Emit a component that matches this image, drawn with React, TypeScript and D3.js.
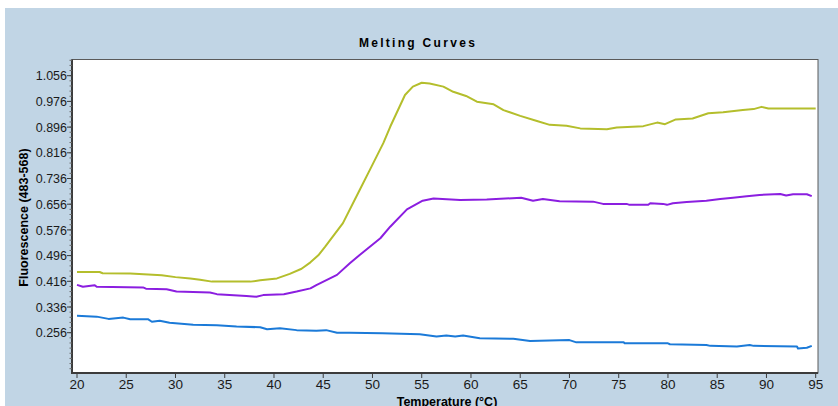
import React from 'react';
import * as d3 from 'd3';

// readings (temperature °C, fluorescence)
const yellowT = [20, 22.3, 22.6, 25.4, 28.6, 30, 31.5, 32.5, 33.7, 37.6, 38.6, 40.3, 41.6, 42.8, 43.7, 44.5, 45.2, 47, 48.7, 49.9, 51.1, 51.8, 53.3, 54.1, 55, 55.8, 57.2, 58.2, 59.5, 60.6, 62.3, 63.3, 65, 66.7, 68, 69.7, 71.1, 73.8, 74.8, 77.5, 78.9, 79.7, 80.8, 82.5, 84.1, 85.6, 87.6, 88.7, 89.5, 90.2, 95];
const yellowV = [0.445, 0.445, 0.441, 0.44, 0.435, 0.429, 0.425, 0.421, 0.415, 0.415, 0.419, 0.425, 0.439, 0.455, 0.475, 0.497, 0.524, 0.597, 0.7, 0.773, 0.846, 0.897, 0.996, 1.022, 1.034, 1.032, 1.022, 1.006, 0.993, 0.975, 0.967, 0.949, 0.931, 0.915, 0.903, 0.9, 0.892, 0.889, 0.895, 0.899, 0.91, 0.905, 0.92, 0.923, 0.939, 0.942, 0.949, 0.952, 0.959, 0.954, 0.954];

const purpleT = [20, 20.6, 21.8, 22, 26.7, 27, 29.1, 30.1, 33.5, 34.2, 37.2, 38.2, 38.9, 41, 42.3, 43.7, 44.3, 46.4, 47.7, 48.7, 50.8, 51.8, 53.5, 55.1, 56.2, 58.9, 61.6, 65.1, 66.3, 67.3, 69, 72.4, 73.4, 75.8, 76.1, 78, 78.2, 79.5, 79.9, 80.5, 81.9, 83.9, 85.3, 86.6, 88, 89.3, 91.4, 92, 92.7, 94.1, 94.6];
const purpleV = [0.405, 0.399, 0.404, 0.399, 0.397, 0.393, 0.391, 0.384, 0.381, 0.376, 0.37, 0.368, 0.373, 0.376, 0.384, 0.394, 0.404, 0.436, 0.472, 0.498, 0.55, 0.586, 0.64, 0.667, 0.674, 0.669, 0.671, 0.676, 0.667, 0.672, 0.665, 0.664, 0.657, 0.657, 0.654, 0.654, 0.659, 0.657, 0.654, 0.659, 0.663, 0.667, 0.672, 0.676, 0.681, 0.685, 0.688, 0.683, 0.687, 0.687, 0.681];

const blueT = [20, 22, 23.2, 24.7, 25.4, 27.2, 27.6, 28.4, 29.4, 31.8, 34.2, 36.2, 38.6, 39.3, 40.6, 42.3, 44.3, 45.3, 46.4, 47.7, 51, 54.8, 56.5, 57.5, 58.4, 59.2, 60.9, 64.3, 66, 70, 70.7, 75.5, 75.6, 80, 80.2, 83.9, 84.3, 87, 88.3, 88.7, 93.1, 93.2, 94.1, 94.6];
const blueV = [0.309, 0.306, 0.299, 0.303, 0.298, 0.298, 0.29, 0.293, 0.287, 0.281, 0.279, 0.275, 0.273, 0.267, 0.27, 0.264, 0.262, 0.264, 0.256, 0.256, 0.254, 0.251, 0.244, 0.247, 0.244, 0.247, 0.239, 0.237, 0.23, 0.233, 0.226, 0.226, 0.223, 0.223, 0.22, 0.218, 0.215, 0.213, 0.218, 0.215, 0.213, 0.207, 0.209, 0.215];

const xTicks = [20, 25, 30, 35, 40, 45, 50, 55, 60, 65, 70, 75, 80, 85, 90, 95];
const yTicks = [0.256, 0.336, 0.416, 0.496, 0.576, 0.656, 0.736, 0.816, 0.896, 0.976, 1.056];

const W = 838;
const H = 406;
const plot = { left: 72, top: 59.5, right: 818, bottom: 373 };
const font = '"Liberation Sans", Arial, sans-serif';

export default function App() {
  const x = d3.scaleLinear().domain([20, 95]).range([77, 815.7]);
  const y = d3.scaleLinear().domain([0.256, 1.056]).range([332.7, 75.7]);

  const line = d3.line<[number, number]>()
    .x(d => x(d[0]))
    .y(d => y(d[1]));

  const series = [
    { t: yellowT, v: yellowV, color: '#b4be2c' },
    { t: purpleT, v: purpleV, color: '#8b1ee0' },
    { t: blueT, v: blueV, color: '#1b7ad8' },
  ];

  // minor ticks on y: 5 divisions per major step, filling the axis
  const yMin = y.invert(plot.bottom);
  const yMax = y.invert(plot.top);
  const minor: number[] = [];
  for (let v = 0.256 - 0.016 * 10; v <= yMax; v += 0.016) {
    if (v >= yMin) minor.push(v);
  }

  return (
    <div style={{ position: 'absolute', left: 0, top: 0 }}>
      <svg width={W} height={H} style={{ display: 'block' }}>
        <rect x={0} y={0} width={W} height={H} fill="#ffffff" />
        <rect x={5} y={8} width={W - 5} height={H - 8} fill="#c1d5e5" />

        <text x={418} y={47} textAnchor="middle" fontFamily={font} fontWeight="bold"
          fontSize={12} letterSpacing={2.3}>Melting Curves</text>

        <rect x={plot.left} y={plot.top} width={plot.right - plot.left} height={plot.bottom - plot.top}
          fill="#ffffff" stroke="#5a5a5a" strokeWidth={1} />

        <g clipPath="url(#clip)">
          {series.map((s, i) => (
            <path key={i} d={line(s.t.map((t, j) => [t, s.v[j]] as [number, number])) || ''}
              fill="none" stroke={s.color} strokeWidth={2} strokeLinejoin="round" />
          ))}
        </g>
        <defs>
          <clipPath id="clip">
            <rect x={plot.left} y={plot.top} width={plot.right - plot.left} height={plot.bottom - plot.top} />
          </clipPath>
        </defs>

        {/* axes */}
        <line x1={plot.left} x2={plot.left} y1={plot.top} y2={plot.bottom + 1} stroke="#3c3c3c" strokeWidth={2} />
        <line x1={plot.left} x2={plot.right} y1={plot.bottom} y2={plot.bottom} stroke="#3c3c3c" strokeWidth={2} />

        {minor.map((v, i) => (
          <line key={'m' + i} x1={plot.left - 2.5} x2={plot.left} y1={y(v)} y2={y(v)} stroke="#6a6a6a" strokeWidth={1} />
        ))}
        {yTicks.map(v => (
          <g key={'y' + v}>
            <line x1={plot.left - 5} x2={plot.left} y1={y(v)} y2={y(v)} stroke="#3c3c3c" strokeWidth={1} />
            <text x={plot.left - 5} y={y(v) + 4.6} textAnchor="end" fontFamily={font} fontSize={12.5}
              fill="#1a1a1a">{v.toFixed(3)}</text>
          </g>
        ))}

        {xTicks.map(t => (
          <g key={'x' + t}>
            <line x1={x(t)} x2={x(t)} y1={plot.bottom} y2={plot.bottom + 5} stroke="#3c3c3c" strokeWidth={1} />
            <text x={x(t)} y={389} textAnchor="middle" fontFamily={font} fontSize={13.5}
              fill="#1a1a1a">{t}</text>
          </g>
        ))}

        <text transform="translate(28,217.5) rotate(-90)" textAnchor="middle" fontFamily={font}
          fontWeight="bold" fontSize={12.5}>Fluorescence (483-568)</text>
        <text x={447} y={406} textAnchor="middle" fontFamily={font} fontWeight="bold"
          fontSize={12.5}>Temperature (°C)</text>
      </svg>
    </div>
  );
}
